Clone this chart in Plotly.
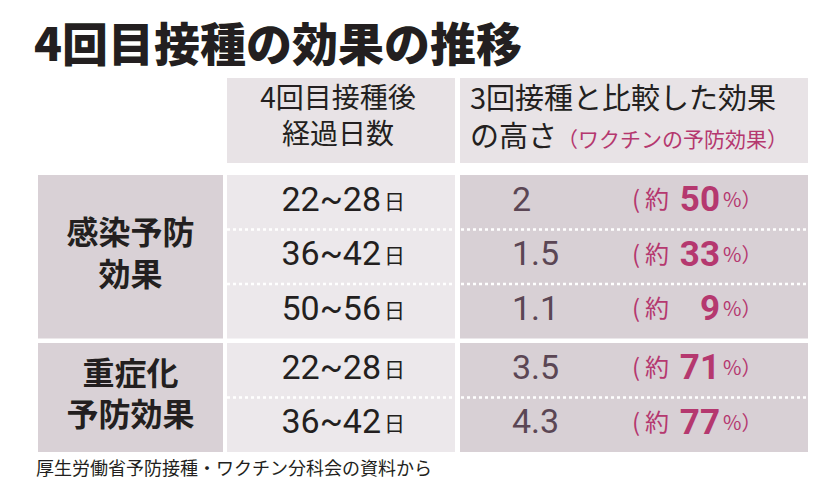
import plotly.graph_objects as go

# --- data -------------------------------------------------------------
title = "4回目接種の効果の推移"
source = "厚生労働省予防接種・ワクチン分科会の資料から"
header_days = "4回目接種後<br>経過日数"
header_effect = "3回接種と比較した効果<br>の高さ"
header_note = "（ワクチンの予防効果）"

groups = ["感染予防<br>効果", "重症化<br>予防効果"]
row_group = [0, 0, 0, 1, 1]
days = ["22~28", "36~42", "50~56", "22~28", "36~42"]
ratio = [2, 1.5, 1.1, 3.5, 4.3]
effect_pct = [50, 33, 9, 71, 77]

# --- layout constants -------------------------------------------------
W, H = 820, 485
COLS = [(30, 215), (219, 447), (452, 800)]
HEAD = (70, 155)
TOP, ROW_H, GAP = 167, 54.5, 4.5

JP = "Noto Sans CJK JP"
NUM = "Roboto, Arial, sans-serif"
DARK = "#231f20"
MAUVE = "#5b4654"
PINK = "#b5386f"
HEAD_BG = "#e8e3e6"
GROUP_BG = "#d9d1d6"
DAY_BG = "#ece8eb"
VAL_BG = "#d8d0d5"

# row tops, with a small gap where the group changes
tops = []
y = TOP
for i, g in enumerate(row_group):
    if i > 0 and g != row_group[i - 1]:
        y += GAP
    tops.append(y)
    y += ROW_H
mids = [t + ROW_H / 2 for t in tops]

shapes = []


def rect(x0, x1, y0, y1, color):
    shapes.append(dict(type="rect", xref="x", yref="y", x0=x0, x1=x1, y0=y0, y1=y1,
                       fillcolor=color, line_width=0, layer="below"))


# header cells
rect(*COLS[1], *HEAD, HEAD_BG)
rect(*COLS[2], *HEAD, HEAD_BG)

# group cells
group_mid = []
for g in range(len(groups)):
    idx = [i for i, rg in enumerate(row_group) if rg == g]
    y0, y1 = tops[idx[0]], tops[idx[-1]] + ROW_H
    group_mid.append((y0 + y1) / 2)
    rect(*COLS[0], y0, y1, GROUP_BG)
    rect(*COLS[1], y0, y1, DAY_BG)
    rect(*COLS[2], y0, y1, VAL_BG)
    for i in idx[1:]:
        shapes.append(dict(type="line", xref="x", yref="y", x0=COLS[1][0], x1=COLS[2][1],
                           y0=tops[i], y1=tops[i], line=dict(color="white", width=2.5, dash="dot")))

fig = go.Figure()


def text(xs, ys, labels, pos, size, color, family=JP, weight=400):
    fig.add_trace(go.Scatter(x=xs, y=ys, text=labels, mode="text", textposition=pos,
                             textfont=dict(size=size, color=color, family=family, weight=weight),
                             hoverinfo="skip", showlegend=False))


text([26], [41], [title], "middle right", 46, DARK, weight=900)
text([(COLS[1][0] + COLS[1][1]) / 2 - 3], [111], [header_days], "middle center", 28, DARK)
text([462], [113],
     [header_effect + f"<span style='color:{PINK};font-size:21px'>{header_note}</span>"],
     "middle right", 29, DARK)

text([(COLS[0][0] + COLS[0][1]) / 2] * len(groups), group_mid, groups, "middle center", 32, DARK, weight=700)

text([373] * len(days), mids, days, "middle left", 34, DARK, family=NUM)
text([376] * len(days), [m + 1 for m in mids], ["日"] * len(days), "middle right", 21, DARK)

text([504] * len(ratio), mids, [f"{v:g}" for v in ratio], "middle right", 34, MAUVE, family=NUM)
text([624] * len(ratio), mids, ["(\u2009約"] * len(ratio), "middle right", 24, PINK)
text([712] * len(effect_pct), mids, [str(v) for v in effect_pct], "middle left", 35, PINK,
     family=NUM, weight=700)
text([715] * len(effect_pct), mids, ["%）"] * len(effect_pct), "middle right", 20, PINK)

text([28], [462], [source], "middle right", 18, DARK)

fig.update_layout(
    width=W, height=H, margin=dict(l=0, r=0, t=0, b=0),
    paper_bgcolor="white", plot_bgcolor="white", shapes=shapes,
    xaxis=dict(range=[0, W], visible=False, fixedrange=True),
    yaxis=dict(range=[H, 0], visible=False, fixedrange=True),
)

fig.write_html("out.html")
